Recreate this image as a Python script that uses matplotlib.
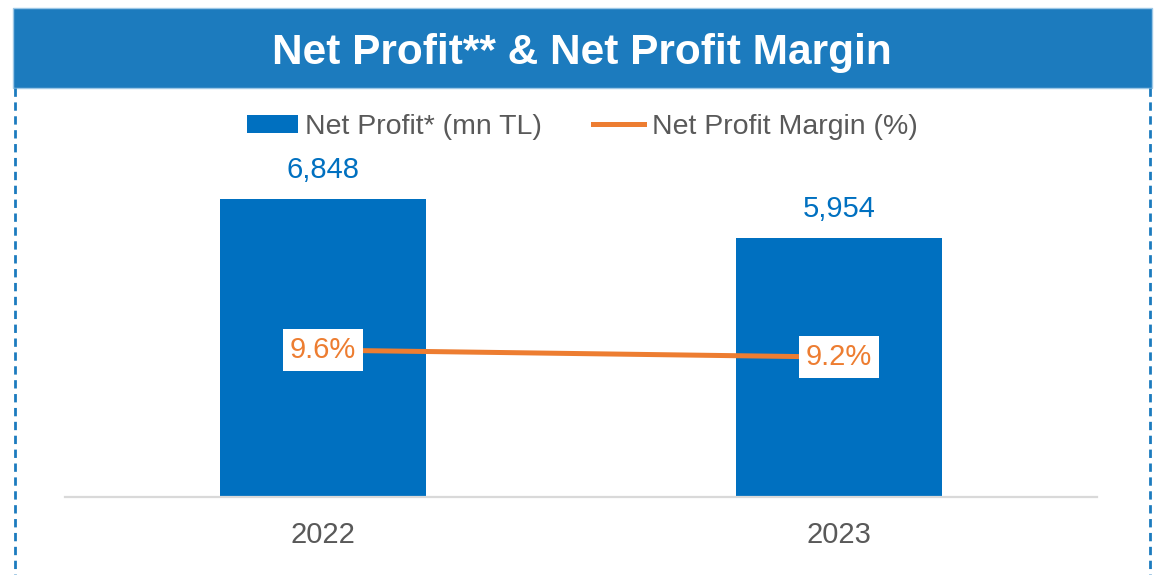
import matplotlib
matplotlib.use("Agg")
import matplotlib.pyplot as plt
from matplotlib.patches import Rectangle, Patch
from matplotlib.lines import Line2D

plt.rcParams['font.family'] = ['Liberation Sans', 'DejaVu Sans']

# data
years = ['2022', '2023']
net_profit = [6848, 5954]          # mn TL
margin = [9.6, 9.2]                # %
profit_labels = ['6,848', '5,954']
margin_labels = ['9.6%', '9.2%']

blue = '#0070C0'
orange = '#ED7D31'
header = '#1C7BBE'
grey_txt = '#595959'

W, H = 1160, 575
fig = plt.figure(figsize=(W / 100, H / 100), dpi=100)

def fx(px):
    return px / W

def fy(px):
    return 1 - px / H

# header bar
fig.patches.append(Rectangle((fx(13), fy(88)), fx(1152) - fx(13), fy(8) - fy(88),
                             transform=fig.transFigure, facecolor=header,
                             edgecolor='#9CC7E6', lw=1, zorder=0))
fig.text(fx(582), fy(53), 'Net Profit** & Net Profit Margin', color='white',
         fontsize=30.5, fontweight='bold', ha='center', va='center')

# dashed frame below the header
for x in (15, 1150):
    fig.add_artist(Line2D([fx(x), fx(x)], [fy(88), 0], transform=fig.transFigure,
                          color='#1C7BBE', lw=2, ls=(0, (3, 2))))

# main axes
ax = fig.add_axes([fx(65), fy(497), fx(1097) - fx(65), fy(149) - fy(497)])
x = list(range(len(years)))
bars = ax.bar(x, net_profit, width=0.4, color=blue, zorder=2)
ax.set_xlim(-0.5, 1.5)
ax.set_ylim(0, 8000)
ax.bar_label(bars, labels=profit_labels, padding=11, color=blue, fontsize=21)
ax.set_xticks(x)
ax.set_xticklabels(years, fontsize=21, color=grey_txt)
ax.tick_params(axis='x', length=0, pad=17)
ax.set_yticks([])
for s in ('top', 'right', 'left'):
    ax.spines[s].set_visible(False)
ax.spines['bottom'].set_color('#D9D9D9')
ax.spines['bottom'].set_linewidth(1.6)

# margin line on a secondary axis
ax2 = ax.twinx()
ax2.plot(x, margin, color=orange, lw=3.6, solid_capstyle='butt', zorder=3)
ax2.set_ylim(1.2, 21.1)
ax2.set_yticks([])
for s in ax2.spines.values():
    s.set_visible(False)
for xi, m, lab in zip(x, margin, margin_labels):
    ax2.text(xi, m, lab, color=orange, fontsize=21, ha='center', va='center', zorder=5,
             bbox=dict(facecolor='white', edgecolor='none', pad=5))

handles = [Patch(facecolor=blue, edgecolor='none', label='Net Profit* (mn TL)'),
           Line2D([], [], color=orange, lw=3.6, label='Net Profit Margin (%)')]
fig.legend(handles=handles, loc='center', bbox_to_anchor=(fx(582), fy(127)), ncol=2,
           frameon=False, fontsize=20.5, labelcolor=grey_txt, handlelength=1.8,
           handleheight=0.6, handletextpad=0.25, columnspacing=1.8)

fig.savefig('out.png', dpi=100)
